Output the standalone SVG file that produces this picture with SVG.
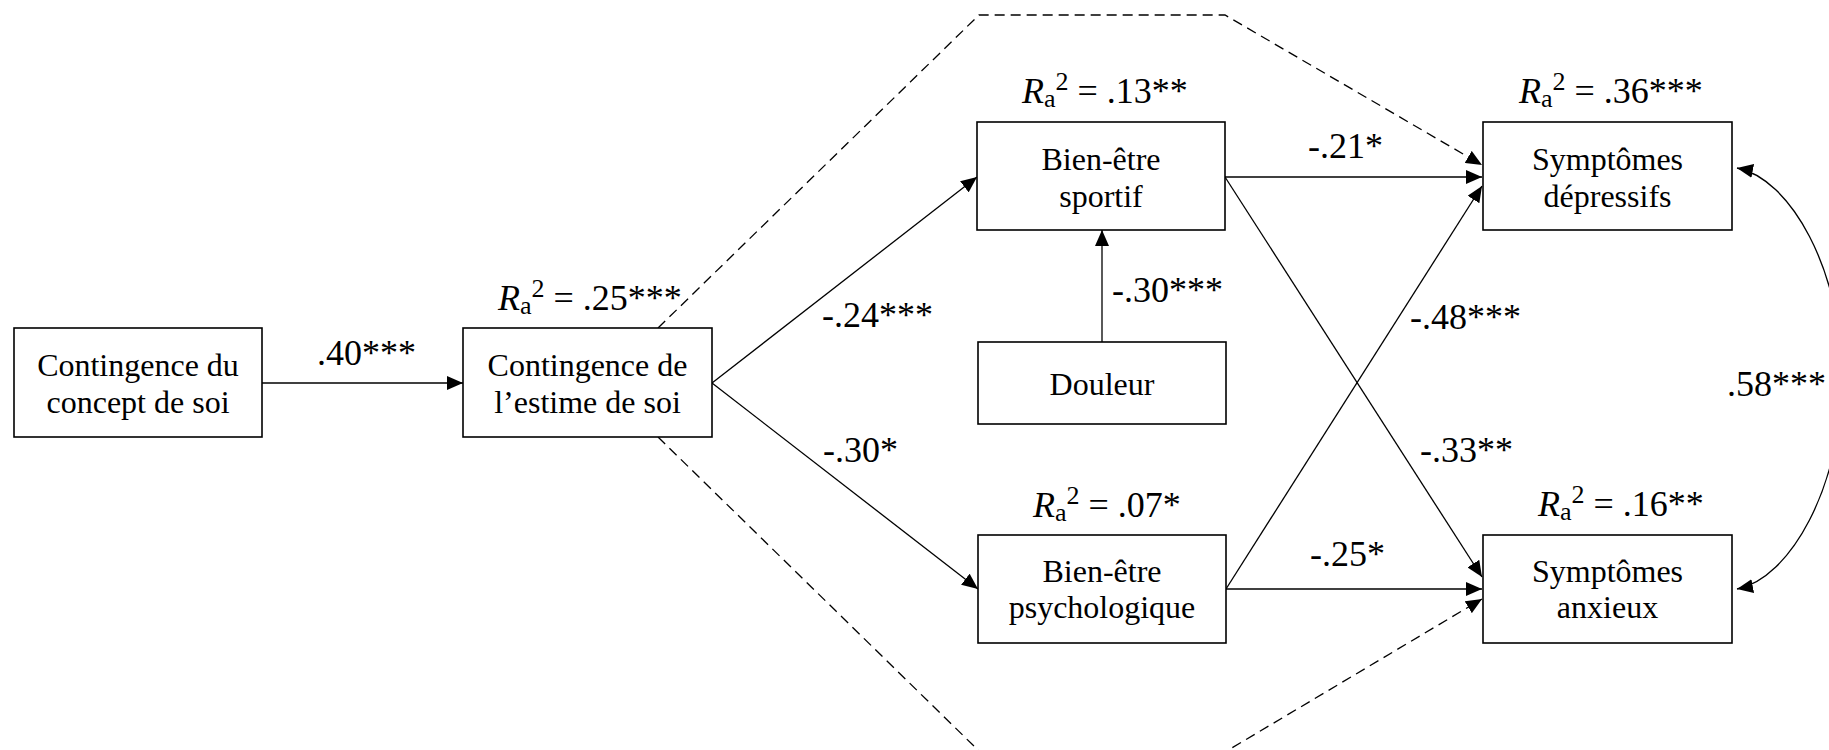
<svg xmlns="http://www.w3.org/2000/svg" width="1829" height="750" viewBox="0 0 1829 750">
<style>
.box{fill:#fff;stroke:#000;stroke-width:1.6}
.t{font-family:"Liberation Serif","Times New Roman",serif;font-size:32px;fill:#000;text-anchor:middle}
.lbl{font-family:"Liberation Serif","Times New Roman",serif;font-size:36px;fill:#000}
.ss{font-size:26px}
.c{fill:none;stroke:#000;stroke-width:1.3}
.d{fill:none;stroke:#000;stroke-width:1.3;stroke-dasharray:10,6}
</style>
<defs>
<marker id="ah" viewBox="0 0 16 14" refX="16" refY="7" markerWidth="16" markerHeight="14" orient="auto-start-reverse" markerUnits="userSpaceOnUse">
<path d="M0,0 L16,7 L0,14 z" fill="#000"/>
</marker>
</defs>
<rect width="1829" height="750" fill="#fff"/>

<g id="connectors">
<line class="c" x1="262" y1="383" x2="463" y2="383" marker-end="url(#ah)"/>
<line class="c" x1="712" y1="383" x2="977" y2="177" marker-end="url(#ah)"/>
<line class="c" x1="712" y1="383" x2="978" y2="589" marker-end="url(#ah)"/>
<line class="c" x1="1102" y1="342" x2="1102" y2="230" marker-end="url(#ah)"/>
<line class="c" x1="1225" y1="177" x2="1482" y2="177" marker-end="url(#ah)"/>
<line class="c" x1="1225" y1="177" x2="1482" y2="577" marker-end="url(#ah)"/>
<line class="c" x1="1226" y1="589" x2="1482" y2="186" marker-end="url(#ah)"/>
<line class="c" x1="1226" y1="589" x2="1482" y2="589" marker-end="url(#ah)"/>
<polyline class="d" points="658,328 979,15 1225,15 1482,165" marker-end="url(#ah)"/>
<polyline class="d" points="658,437 980,752 1225,752 1482,599" marker-end="url(#ah)"/>
<path class="c" d="M1737,168 C1790,178 1842,270 1842,378 C1842,486 1790,579 1737,589" marker-start="url(#ah)" marker-end="url(#ah)"/>
</g>

<g id="edge-labels">
<text class="lbl" x="317" y="365">.40***</text>
<text class="lbl" x="822" y="327">-.24***</text>
<text class="lbl" x="823" y="462">-.30*</text>
<text class="lbl" x="1112" y="302">-.30***</text>
<text class="lbl" x="1308" y="158">-.21*</text>
<text class="lbl" x="1410" y="329">-.48***</text>
<text class="lbl" x="1420" y="462">-.33**</text>
<text class="lbl" x="1310" y="566">-.25*</text>
<text class="lbl" x="1727" y="396">.58***</text>
</g>

<g id="concept">
<rect class="box" x="14" y="328" width="248" height="109"/>
<text class="t" x="138" y="376">Contingence du</text>
<text class="t" x="138" y="413">concept de soi</text>
</g>

<g id="estime">
<text class="lbl" x="498" y="310"><tspan font-style="italic">R</tspan><tspan class="ss" dy="4">a</tspan><tspan class="ss" dy="-17">2</tspan><tspan dy="13"> = .25***</tspan></text>
<rect class="box" x="463" y="328" width="249" height="109"/>
<text class="t" x="587.5" y="376">Contingence de</text>
<text class="t" x="587.5" y="413">l’estime de soi</text>
</g>

<g id="sportif">
<text class="lbl" x="1022" y="103"><tspan font-style="italic">R</tspan><tspan class="ss" dy="4">a</tspan><tspan class="ss" dy="-17">2</tspan><tspan dy="13"> = .13**</tspan></text>
<rect class="box" x="977" y="122" width="248" height="108"/>
<text class="t" x="1101" y="170">Bien-être</text>
<text class="t" x="1101" y="207">sportif</text>
</g>

<g id="douleur">
<rect class="box" x="978" y="342" width="248" height="82"/>
<text class="t" x="1102" y="395">Douleur</text>
</g>

<g id="psychologique">
<text class="lbl" x="1033" y="517"><tspan font-style="italic">R</tspan><tspan class="ss" dy="4">a</tspan><tspan class="ss" dy="-17">2</tspan><tspan dy="13"> = .07*</tspan></text>
<rect class="box" x="978" y="535" width="248" height="108"/>
<text class="t" x="1102" y="582">Bien-être</text>
<text class="t" x="1102" y="618">psychologique</text>
</g>

<g id="depressifs">
<text class="lbl" x="1519" y="103"><tspan font-style="italic">R</tspan><tspan class="ss" dy="4">a</tspan><tspan class="ss" dy="-17">2</tspan><tspan dy="13"> = .36***</tspan></text>
<rect class="box" x="1483" y="122" width="249" height="108"/>
<text class="t" x="1607.5" y="170">Symptômes</text>
<text class="t" x="1607.5" y="207">dépressifs</text>
</g>

<g id="anxieux">
<text class="lbl" x="1538" y="516"><tspan font-style="italic">R</tspan><tspan class="ss" dy="4">a</tspan><tspan class="ss" dy="-17">2</tspan><tspan dy="13"> = .16**</tspan></text>
<rect class="box" x="1483" y="535" width="249" height="108"/>
<text class="t" x="1607.5" y="582">Symptômes</text>
<text class="t" x="1607.5" y="618">anxieux</text>
</g>
</svg>
